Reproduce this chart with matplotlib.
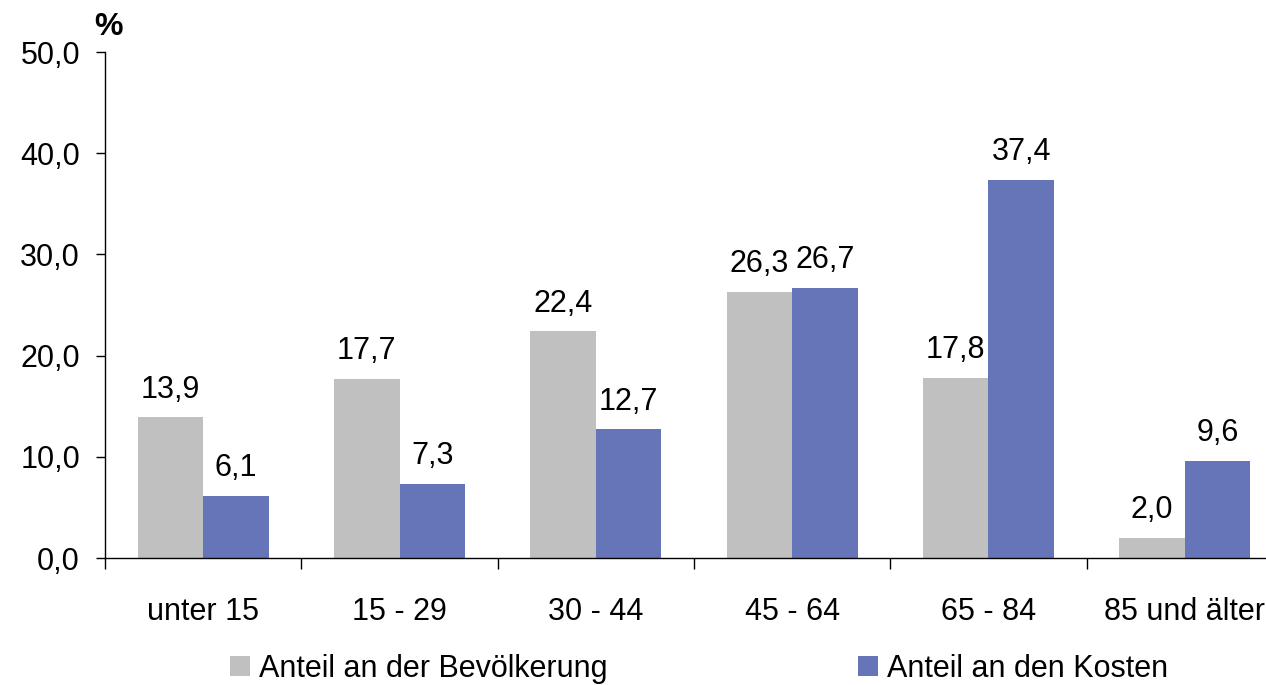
import matplotlib
matplotlib.use("Agg")
import matplotlib.pyplot as plt
from matplotlib.patches import Patch
from matplotlib.ticker import FixedLocator, FuncFormatter

# Age groups and the two shares (in %)
categories = ["unter 15", "15 - 29", "30 - 44", "45 - 64", "65 - 84", "85 und älter"]
bevoelkerung = [13.9, 17.7, 22.4, 26.3, 17.8, 2.0]
kosten = [6.1, 7.3, 12.7, 26.7, 37.4, 9.6]
series_names = ["Anteil an der Bevölkerung", "Anteil an den Kosten"]
y_ticks = [0, 10, 20, 30, 40, 50]

GRAY = "#C0C0C0"
BLUE = "#6674B8"
FS = 22

plt.rcParams["font.family"] = ["Liberation Sans", "DejaVu Sans"]

fig = plt.figure(figsize=(12.66, 6.85), dpi=100)
W, H = 1266, 685
ax = fig.add_axes([105 / W, 1 - 558 / H, (1283 - 105) / W, (558 - 52) / H])

def de(v):
    return f"{v:.1f}".replace(".", ",")

bw = 1 / 3
xs = list(range(len(categories)))
b1 = ax.bar([x - bw / 2 for x in xs], bevoelkerung, width=bw, color=GRAY, linewidth=0)
b2 = ax.bar([x + bw / 2 for x in xs], kosten, width=bw, color=BLUE, linewidth=0)

for bars, vals in ((b1, bevoelkerung), (b2, kosten)):
    for rect, v in zip(bars, vals):
        ax.annotate(de(v), (rect.get_x() + rect.get_width() / 2, v),
                    xytext=(0, 20), textcoords="offset points",
                    ha="center", va="center", fontsize=FS, clip_on=False)

ax.set_xlim(-0.5, len(categories) - 0.5)
ax.set_ylim(0, 50)

# group separators as major ticks, category names on minor ticks
ax.xaxis.set_major_locator(FixedLocator([x - 0.5 for x in range(len(categories) + 1)]))
ax.xaxis.set_major_formatter(FuncFormatter(lambda v, p: ""))
ax.xaxis.set_minor_locator(FixedLocator(xs))
ax.set_xticklabels(categories, minor=True)
ax.tick_params(axis="x", which="major", direction="out", length=8, width=1, color="black")
ax.tick_params(axis="x", which="minor", length=0, pad=28, labelsize=FS)

ax.set_yticks(y_ticks)
ax.yaxis.set_major_formatter(FuncFormatter(lambda v, p: de(v)))
ax.tick_params(axis="y", direction="out", length=6.5, width=1, pad=11.5, labelsize=FS)

for s in ("top", "right"):
    ax.spines[s].set_visible(False)
for s in ("left", "bottom"):
    ax.spines[s].set_linewidth(1.0)
    ax.spines[s].set_color("black")

fig.text(108 / W, 1 - 27 / H, "%", fontsize=23, fontweight="bold", ha="center", va="center")

handles = [Patch(facecolor=GRAY, edgecolor="none"), Patch(facecolor=BLUE, edgecolor="none")]
fig.legend(handles, series_names, loc="center left", bbox_to_anchor=(230 / W, 1 - 669 / H),
           ncol=2, frameon=False, fontsize=FS, borderpad=0, borderaxespad=0,
           handlelength=0.65, handleheight=0.65, handletextpad=0.3, columnspacing=8.2)

fig.savefig("out.png", dpi=100)
